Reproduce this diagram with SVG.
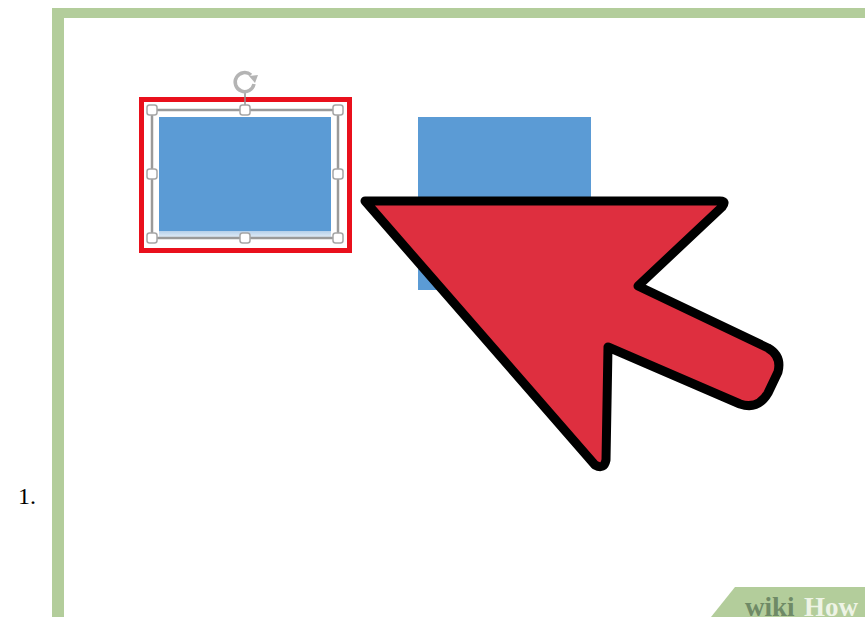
<svg xmlns="http://www.w3.org/2000/svg" width="865" height="617" viewBox="0 0 865 617">
<defs><linearGradient id="fade" x1="0" y1="0" x2="0" y2="1"><stop offset="0" stop-color="#b5d0ea"/><stop offset="1" stop-color="#e6eff8"/></linearGradient></defs>
<style>
.h{fill:#fff;stroke:#a6a6a6;stroke-width:1.500}
.w{font-family:"Liberation Serif",serif;font-weight:bold;font-size:27px}
</style>
<rect width="865" height="617" fill="#fff"/>
<path id="frame" d="M52 8H865V18H64V617H52Z" fill="#b3cd9b"/>
<text id="number" x="18" y="504" font-family="Liberation Serif,serif" font-size="24" fill="#000">1.</text>
<g id="shape-right"><rect x="418" y="117" width="173" height="173" fill="#5b9bd5"/></g>
<g id="shape-selected">
<rect x="141.500" y="99.500" width="208" height="151" fill="#fff" stroke="#e9101c" stroke-width="5"/>
<rect x="159" y="117" width="172" height="114" fill="#5b9bd5"/>
<rect x="159" y="231" width="172" height="7" fill="url(#fade)"/>
<rect x="152" y="110" width="186" height="128" fill="none" stroke="#9a9a9a" stroke-width="2.500"/>
<path d="M245 110V92" stroke="#8f8f8f" stroke-width="1.500"/>
<path d="M251 75A9.500 9.500 0 1 0 254 84" fill="none" stroke="#b4b4b4" stroke-width="3.500"/>
<path d="M249 76L258 75L255 83Z" fill="#b4b4b4"/>
<rect class="h" x="147" y="105" width="10" height="10" rx="2.500"/>
<rect class="h" x="240" y="105" width="10" height="10" rx="2.500"/>
<rect class="h" x="333" y="105" width="10" height="10" rx="2.500"/>
<rect class="h" x="147" y="169" width="10" height="10" rx="2.500"/>
<rect class="h" x="333" y="169" width="10" height="10" rx="2.500"/>
<rect class="h" x="147" y="233" width="10" height="10" rx="2.500"/>
<rect class="h" x="240" y="233" width="10" height="10" rx="2.500"/>
<rect class="h" x="333" y="233" width="10" height="10" rx="2.500"/>
</g>
<g id="arrow">
<path d="M365 201H720Q727 201 722 207L638 286L768 348Q782 356 778 372L768 393Q758 410 740 404L608 347L606 460Q604 470 595 465Z" fill="#de2f3f" stroke="#000" stroke-width="9" stroke-linejoin="round"/>
</g>
<g id="badge">
<path d="M735 587H865V617H711Z" fill="#b3cd9b"/>
<text class="w" x="745" y="616" fill="#6f8a66">wiki</text>
<text class="w" x="804" y="616" fill="#eef4e6">How</text>
</g>
</svg>
